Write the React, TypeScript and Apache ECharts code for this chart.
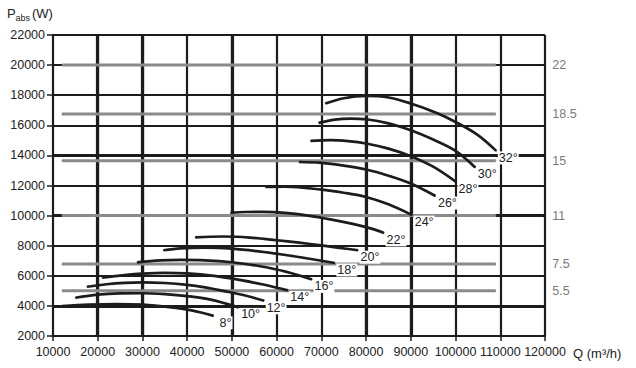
import React, { useEffect, useRef } from "react";
import * as echarts from "echarts";

// Temperature curves: [Q (m3/h), P (W)]
const temps = ["8°", "10°", "12°", "14°", "16°", "18°", "20°", "22°", "24°", "26°", "28°", "30°", "32°"];
const curve8 = [[12000, 3980], [18000, 4080], [24000, 4120], [30000, 4080], [36000, 3920], [41000, 3700], [45900, 3340]];
const curve10 = [[15000, 4540], [20000, 4750], [25000, 4830], [30000, 4840], [35000, 4780], [40000, 4650], [45000, 4430], [51500, 3900]];
const curve12 = [[17600, 5270], [22000, 5440], [26000, 5530], [30000, 5560], [35000, 5520], [40000, 5400], [44000, 5230], [48000, 5000], [53000, 4690], [57200, 4340]];
const curve14 = [[21000, 5870], [26000, 6050], [30000, 6150], [35000, 6200], [40000, 6160], [46000, 5990], [52000, 5710], [57000, 5420], [62500, 5030]];
const curve16 = [[28800, 6890], [34000, 7020], [38500, 7060], [44000, 7030], [50000, 6900], [56000, 6650], [62000, 6280], [67900, 5760]];
const curve18 = [[34700, 7700], [38500, 7820], [44000, 7870], [50000, 7800], [56000, 7620], [62000, 7380], [67000, 7150], [73000, 6850]];
const curve20 = [[41800, 8550], [48000, 8610], [54000, 8540], [60000, 8360], [65000, 8200], [70000, 8020], [74000, 7860], [78200, 7700]];
const curve22 = [[49700, 10180], [53000, 10240], [57000, 10250], [62000, 10180], [67000, 10000], [72000, 9750], [77000, 9450], [81000, 9150], [84000, 8850]];
const curve24 = [[57500, 11900], [62000, 11920], [70000, 11730], [75000, 11520], [80000, 11240], [85000, 10750], [90300, 10030]];
const curve26 = [[65000, 13560], [70000, 13500], [75000, 13320], [80000, 13060], [85000, 12650], [90000, 12130], [95500, 11300]];
const curve28 = [[67600, 14960], [72000, 15020], [76000, 14950], [80000, 14790], [85000, 14450], [90000, 13950], [95000, 13250], [100100, 12240]];
const curve30 = [[69400, 16160], [73000, 16380], [76500, 16450], [80000, 16400], [85000, 16130], [90000, 15670], [95000, 15050], [100000, 14300], [104400, 13200]];
const curve32 = [[70900, 17450], [75000, 17800], [80000, 17950], [85000, 17850], [90000, 17450], [95800, 16820], [100000, 16220], [105000, 15350], [109100, 14300]];
const curves = [curve8, curve10, curve12, curve14, curve16, curve18, curve20, curve22, curve24, curve26, curve28, curve30, curve32];

// Motor power levels (kW) drawn as gray horizontal lines
const powerLabels = ["22", "18.5", "15", "11", "7.5", "5.5"];
const powerValues = [20000, 16750, 13650, 10000, 6780, 5000];
const powerRange = [12000, 109000];

// Grid lines that are drawn heavier in the reference
const heavyQ = [20000, 30000, 50000, 80000, 90000];
const heavyP = [4000, 10000, 14000];

const xTicks = { min: 10000, max: 120000, interval: 10000 };
const yTicks = { min: 2000, max: 22000, interval: 2000 };

const FONT = '"Liberation Sans", Arial, Helvetica, sans-serif';
const FS = 12.5;

export default function App() {
  const ref = useRef<HTMLDivElement>(null);
  useEffect(() => {
    if (!ref.current) return;
    const chart = echarts.init(ref.current, null, { renderer: "svg" });
    const curveSeries = curves.map((c, i) => ({
      type: "line",
      data: c.map((p, j) => (j === c.length - 1 ? { value: p, label: { show: true } } : p)),
      smooth: 0.35,
      symbol: "circle",
      symbolSize: 1,
      showSymbol: true,
      lineStyle: { color: "#1c1c1c", width: 2.7 },
      itemStyle: { color: "#1c1c1c" },
      label: {
        show: false,
        formatter: temps[i],
        position: "inside",
        offset: [12, 7],
        fontFamily: FONT,
        fontSize: FS,
        color: "#222",
        backgroundColor: "#fff",
        padding: [0, 1],
      },
      z: 6,
      silent: true,
    }));
    const powerSeries = powerValues.map((v, i) => ({
      type: "line",
      data: [[powerRange[0], v], { value: [powerRange[1], v], label: { show: true } }],
      symbol: "circle",
      symbolSize: 1,
      showSymbol: true,
      lineStyle: { color: "#8a8a8a", width: 3 },
      itemStyle: { color: "#8a8a8a" },
      label: {
        show: false,
        formatter: powerLabels[i],
        position: "right",
        distance: 56,
        fontFamily: FONT,
        fontSize: FS,
        color: "#7a7a7a",
      },
      z: 4,
      silent: true,
    }));
    const heavySeries = {
      type: "line",
      data: [],
      silent: true,
      z: 1,
      markLine: {
        silent: true,
        z: 1,
        symbol: "none",
        label: { show: false },
        lineStyle: { color: "#1c1c1c", width: 3.2, type: "solid" },
        data: [...heavyQ.map((q) => ({ xAxis: q })), ...heavyP.map((p) => ({ yAxis: p }))],
      },
    };
    chart.setOption({
      animation: false,
      grid: { left: 53, right: 91, top: 35, bottom: 32, containLabel: false },
      xAxis: {
        type: "value",
        min: xTicks.min,
        max: xTicks.max,
        interval: xTicks.interval,
        axisLine: { show: true, onZero: false, lineStyle: { color: "#1c1c1c", width: 2 } },
        axisTick: { show: true, length: 5, lineStyle: { color: "#1c1c1c", width: 1.5 } },
        axisLabel: { fontFamily: FONT, fontSize: FS, color: "#222", margin: 9, formatter: (v: number) => String(v) },
        splitLine: { show: true, lineStyle: { color: "#1c1c1c", width: 2.2 } },
      },
      yAxis: {
        type: "value",
        min: yTicks.min,
        max: yTicks.max,
        interval: yTicks.interval,
        axisLine: { show: true, lineStyle: { color: "#1c1c1c", width: 2 } },
        axisTick: { show: true, length: 6, lineStyle: { color: "#1c1c1c", width: 1.5 } },
        axisLabel: { fontFamily: FONT, fontSize: FS, color: "#222", margin: 8, formatter: (v: number) => String(v) },
        splitLine: { show: true, lineStyle: { color: "#1c1c1c", width: 2.2 } },
      },
      graphic: [
        { type: "text", x: 7, y: 13, style: { text: "P", fontFamily: FONT, fontSize: 13, fill: "#222", verticalAlign: "middle" } },
        { type: "text", x: 15.5, y: 18, style: { text: "abs", fontFamily: FONT, fontSize: 9, fill: "#222", verticalAlign: "middle" } },
        { type: "text", x: 32, y: 13, style: { text: "(W)", fontFamily: FONT, fontSize: 13, fill: "#222", verticalAlign: "middle" } },
        { type: "text", x: 573, y: 353, style: { text: "Q (m³/h)", fontFamily: FONT, fontSize: 13, fill: "#222", verticalAlign: "middle" } },
      ],
      series: [heavySeries, ...powerSeries, ...curveSeries],
    });
    return () => chart.dispose();
  }, []);
  return <div ref={ref} style={{ position: "fixed", left: 0, top: 0, width: 636, height: 368, background: "#fff" }} />;
}
